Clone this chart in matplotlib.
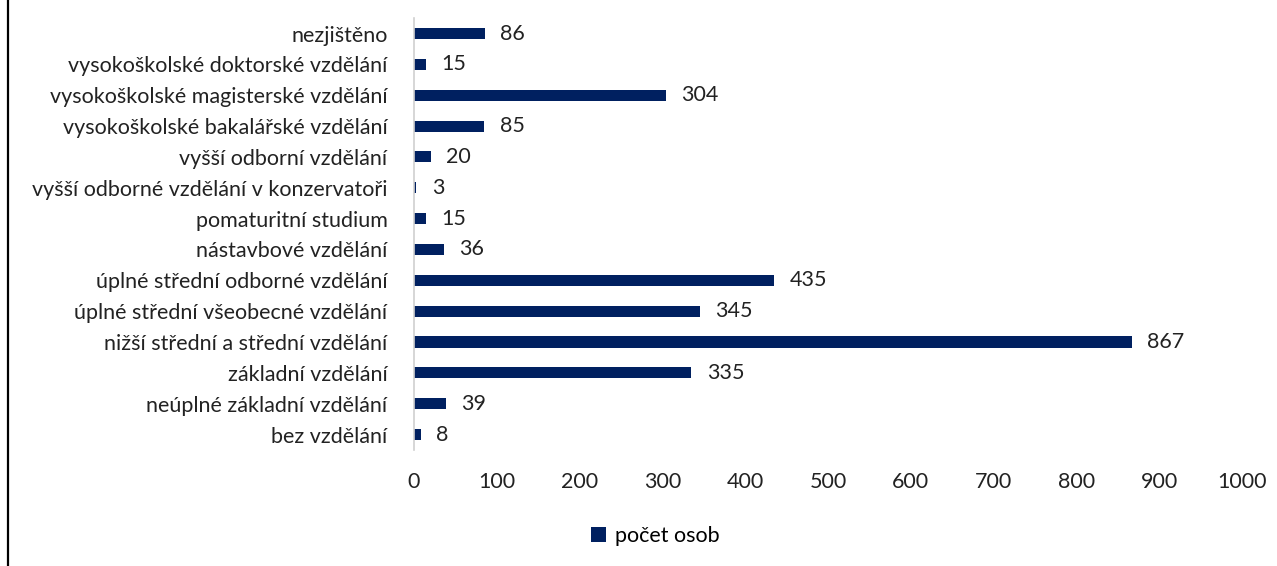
import matplotlib
matplotlib.use('Agg')
import matplotlib.pyplot as plt
from matplotlib.lines import Line2D

plt.rcParams['font.family'] = ['Lato', 'DejaVu Sans']
plt.rcParams['font.size'] = 15.5

# data (top to bottom as in the chart)
categories = [
    'nezjištěno',
    'vysokoškolské doktorské vzdělání',
    'vysokoškolské magisterské vzdělání',
    'vysokoškolské bakalářské vzdělání',
    'vyšší odborní vzdělání',
    'vyšší odborné vzdělání v konzervatoři',
    'pomaturitní studium',
    'nástavbové vzdělání',
    'úplné střední odborné vzdělání',
    'úplné střední všeobecné vzdělání',
    'nižší střední a střední vzdělání',
    'základní vzdělání',
    'neúplné základní vzdělání',
    'bez vzdělání',
]
values = [86, 15, 304, 85, 20, 3, 15, 36, 435, 345, 867, 335, 39, 8]
series_name = 'počet osob'
xticks = [0, 100, 200, 300, 400, 500, 600, 700, 800, 900, 1000]

navy = '#002060'

fig = plt.figure(figsize=(12.77, 5.66), dpi=100)
ax = fig.add_axes([0.3242, 0.205, 0.6484, 0.763])

ypos = list(range(len(categories)))[::-1]
ax.barh(ypos, values, height=0.36, color=navy, label=series_name)
for y, v in zip(ypos, values):
    ax.annotate(str(v), xy=(v, y), xytext=(11, 0), textcoords='offset points',
                ha='left', va='center', color='#222222')

ax.set_xlim(0, 1000)
ax.set_ylim(-0.5, len(categories) - 0.5)
ax.set_yticks(ypos)
ax.set_yticklabels(categories, color='#222222')
ax.set_xticks(xticks)
ax.tick_params(axis='x', length=0, pad=16, colors='#222222')
ax.tick_params(axis='y', length=0, pad=19, colors='#222222')
for s in ['top', 'right', 'bottom']:
    ax.spines[s].set_visible(False)
ax.spines['left'].set_color('#d0d0d0')
ax.spines['left'].set_linewidth(1.2)

fig.legend(loc='center', bbox_to_anchor=(0.513, 0.053), frameon=False,
           handlelength=0.7, handleheight=0.7, handletextpad=0.4)

fig.add_artist(Line2D([7.5 / 1277, 7.5 / 1277], [0, 1], color='black', linewidth=1.6,
                      transform=fig.transFigure))

fig.savefig('out.png', dpi=100)
